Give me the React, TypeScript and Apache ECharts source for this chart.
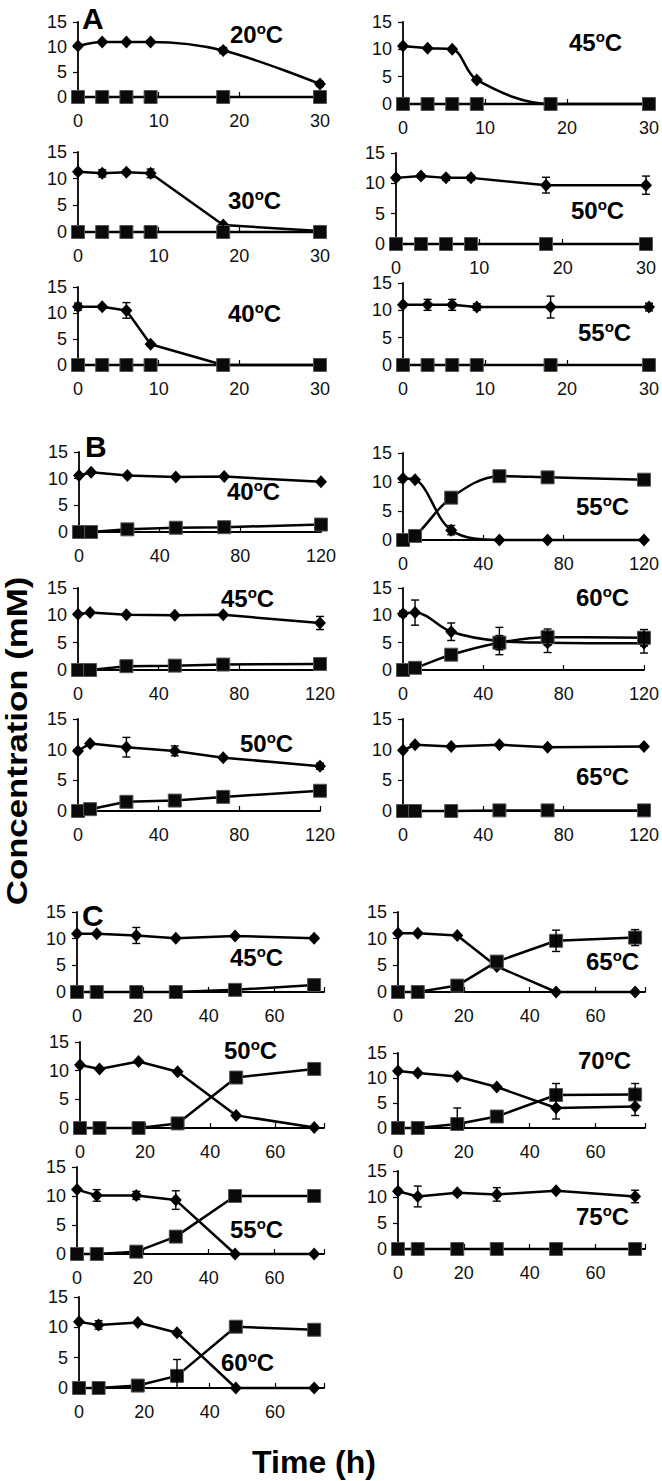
import React, { useEffect, useRef } from 'react';
import * as echarts from 'echarts';

const FONT = '"Liberation Sans", Arial, Helvetica, sans-serif';

// ---------- time points (h) ----------
const hoursA = [0, 3, 6, 9, 18, 30];
const hoursB = [0, 6, 24, 48, 72, 120];
const hoursC = [0, 6, 18, 30, 48, 72];

// ---------- tick values ----------
const yTicks = [0, 5, 10, 15];
const xTicksA = [0, 10, 20, 30];
const xTicksB = [0, 40, 80, 120];
const xTicksC = [0, 20, 40, 60];

// ---------- section A ----------
const a20D = [10.2, 11.0, 11.0, 11.0, 9.3, 2.6];
const a20DErr = [0.3, 0.3, 0.3, 0.3, 0.6, 0.5];
const a20S = [0, 0, 0, 0, 0, 0];
const a45D = [10.6, 10.2, 10.0, 4.4, 0, 0];
const a45DErr = [0.3, 0.2, 0.3, 0.3, 0, 0];
const a45S = [0, 0, 0, 0, 0, 0];
const a30D = [11.3, 11.0, 11.2, 11.0, 1.3, 0.2];
const a30DErr = [0.4, 0.7, 0.4, 0.8, 0.3, 0];
const a30S = [0, 0, 0, 0, 0, 0];
const a50D = [10.9, 11.2, 10.9, 10.9, 9.7, 9.7];
const a50DErr = [0.3, 0.3, 0.4, 0.4, 1.3, 1.5];
const a50S = [0, 0, 0, 0, 0, 0];
const a40D = [11.2, 11.2, 10.5, 4.0, 0, 0];
const a40DErr = [0.7, 0.3, 1.5, 0.3, 0, 0];
const a40S = [0, 0, 0, 0, 0, 0];
const a55D = [11.0, 11.0, 11.0, 10.6, 10.6, 10.6];
const a55DErr = [0.3, 1.0, 1.0, 0.6, 2.0, 0.7];
const a55S = [0, 0, 0, 0, 0, 0];

// ---------- section B ----------
const b40D = [10.6, 11.2, 10.6, 10.3, 10.4, 9.4];
const b40S = [0, 0, 0.5, 0.8, 0.9, 1.4];
const b55D = [10.6, 10.4, 1.7, 0, 0, 0];
const b55DErr = [0, 0, 0.8, 0, 0, 0];
const b55S = [0, 0.7, 7.3, 11.0, 10.8, 10.4];
const b45D = [10.2, 10.5, 10.1, 10.0, 10.1, 8.6];
const b45DErr = [0, 0, 0, 0, 0, 1.2];
const b45S = [0, 0, 0.7, 0.8, 1.0, 1.1];
const b60D = [10.3, 10.5, 7.0, 5.3, 5.0, 4.9];
const b60DErr = [0.5, 2.3, 1.6, 2.5, 1.8, 1.8];
const b60S = [0, 0.4, 2.8, 5.0, 6.0, 5.9];
const b60SErr = [0, 0, 0, 1.3, 1.5, 1.5];
const b50D = [9.8, 11.0, 10.4, 9.8, 8.7, 7.3];
const b50DErr = [0, 0, 1.6, 0.8, 0.3, 0.5];
const b50S = [0, 0.3, 1.5, 1.7, 2.3, 3.3];
const b65D = [9.9, 10.8, 10.5, 10.8, 10.4, 10.5];
const b65S = [0, 0, 0, 0.1, 0.1, 0.1];

// ---------- section C ----------
const c45D = [10.9, 10.9, 10.6, 10.1, 10.5, 10.1];
const c45DErr = [0, 0, 1.5, 0, 0, 0.3];
const c45S = [0, 0, 0, 0, 0.4, 1.3];
const c65D = [11.0, 11.0, 10.6, 4.8, 0, 0];
const c65S = [0, 0, 1.2, 5.7, 9.6, 10.2];
const c65SErr = [0, 0, 0, 0, 2.0, 1.5];
const c50D = [11.0, 10.3, 11.6, 9.8, 2.2, 0.1];
const c50S = [0, 0, 0, 0.8, 8.8, 10.3];
const c70D = [11.4, 11.0, 10.3, 8.2, 4.0, 4.3];
const c70DErr = [0, 0, 0, 0, 2.2, 1.8];
const c70S = [0, 0, 0.8, 2.3, 6.6, 6.7];
const c70SErr = [0, 0, 3.2, 0, 2.3, 2.2];
const c55D = [11.1, 10.1, 10.1, 9.3, 0, 0];
const c55DErr = [0, 1.0, 0.7, 1.6, 0, 0];
const c55S = [0, 0, 0.4, 3.0, 10.0, 10.0];
const c75D = [11.1, 10.1, 10.8, 10.5, 11.2, 10.1];
const c75DErr = [0.4, 2.0, 0.4, 1.3, 0.2, 1.2];
const c75S = [0, 0, 0, 0, 0, 0];
const c60D = [10.9, 10.4, 10.8, 9.1, 0, 0];
const c60DErr = [0, 0.7, 0.3, 0.3, 0, 0];
const c60S = [0, 0, 0.4, 2.0, 10.1, 9.6];
const c60SErr = [0, 0, 0, 2.7, 0, 0];

const none = [0, 0, 0, 0, 0, 0];

type Panel = {
  temp: string;
  hours: number[];
  d: number[];
  dErr: number[];
  s: number[];
  sErr: number[];
  smooth: boolean;
  xMax: number;
  xTicks: number[];
  box: [number, number, number, number]; // x at 0, x at max, y at 15, y at 0
  lab: [number, number];
};

const panels: Panel[] = [
  { temp: '20', hours: hoursA, d: a20D, dErr: a20DErr, s: a20S, sErr: none, smooth: true, xMax: 30, xTicks: xTicksA, box: [78, 320, 22, 97], lab: [230, 34] },
  { temp: '45', hours: hoursA, d: a45D, dErr: a45DErr, s: a45S, sErr: none, smooth: true, xMax: 30, xTicks: xTicksA, box: [403, 650, 22, 104], lab: [569, 42] },
  { temp: '30', hours: hoursA, d: a30D, dErr: a30DErr, s: a30S, sErr: none, smooth: false, xMax: 30, xTicks: xTicksA, box: [78, 320, 152, 232], lab: [228, 200] },
  { temp: '50', hours: hoursA, d: a50D, dErr: a50DErr, s: a50S, sErr: none, smooth: false, xMax: 30, xTicks: xTicksA, box: [396, 646, 153, 244], lab: [571, 210] },
  { temp: '40', hours: hoursA, d: a40D, dErr: a40DErr, s: a40S, sErr: none, smooth: false, xMax: 30, xTicks: xTicksA, box: [78, 320, 287, 365], lab: [228, 313] },
  { temp: '55', hours: hoursA, d: a55D, dErr: a55DErr, s: a55S, sErr: none, smooth: false, xMax: 30, xTicks: xTicksA, box: [403, 651, 283, 365], lab: [578, 332] },

  { temp: '40', hours: hoursB, d: b40D, dErr: none, s: b40S, sErr: none, smooth: false, xMax: 120, xTicks: xTicksB, box: [79, 321, 452, 532], lab: [227, 491] },
  { temp: '55', hours: hoursB, d: b55D, dErr: b55DErr, s: b55S, sErr: none, smooth: true, xMax: 120, xTicks: xTicksB, box: [403, 647, 453, 540], lab: [576, 506] },
  { temp: '45', hours: hoursB, d: b45D, dErr: b45DErr, s: b45S, sErr: none, smooth: false, xMax: 120, xTicks: xTicksB, box: [78, 320, 588, 670], lab: [221, 598] },
  { temp: '60', hours: hoursB, d: b60D, dErr: b60DErr, s: b60S, sErr: b60SErr, smooth: true, xMax: 120, xTicks: xTicksB, box: [403, 647, 588, 670], lab: [576, 597] },
  { temp: '50', hours: hoursB, d: b50D, dErr: b50DErr, s: b50S, sErr: none, smooth: false, xMax: 120, xTicks: xTicksB, box: [78, 320, 719, 811], lab: [240, 743] },
  { temp: '65', hours: hoursB, d: b65D, dErr: none, s: b65S, sErr: none, smooth: false, xMax: 120, xTicks: xTicksB, box: [403, 647, 719, 811], lab: [576, 776] },

  { temp: '45', hours: hoursC, d: c45D, dErr: c45DErr, s: c45S, sErr: none, smooth: false, xMax: 75, xTicks: xTicksC, box: [77, 324, 912, 992], lab: [230, 957] },
  { temp: '65', hours: hoursC, d: c65D, dErr: none, s: c65S, sErr: c65SErr, smooth: false, xMax: 75, xTicks: xTicksC, box: [398, 645, 912, 992], lab: [586, 961] },
  { temp: '50', hours: hoursC, d: c50D, dErr: none, s: c50S, sErr: none, smooth: false, xMax: 75, xTicks: xTicksC, box: [80, 324, 1042, 1128], lab: [224, 1050] },
  { temp: '70', hours: hoursC, d: c70D, dErr: c70DErr, s: c70S, sErr: c70SErr, smooth: false, xMax: 75, xTicks: xTicksC, box: [398, 645, 1053, 1128], lab: [578, 1060] },
  { temp: '55', hours: hoursC, d: c55D, dErr: c55DErr, s: c55S, sErr: none, smooth: false, xMax: 75, xTicks: xTicksC, box: [77, 324, 1167, 1254], lab: [230, 1229] },
  { temp: '75', hours: hoursC, d: c75D, dErr: c75DErr, s: c75S, sErr: none, smooth: false, xMax: 75, xTicks: xTicksC, box: [398, 645, 1171, 1249], lab: [576, 1216] },
  { temp: '60', hours: hoursC, d: c60D, dErr: c60DErr, s: c60S, sErr: c60SErr, smooth: false, xMax: 75, xTicks: xTicksC, box: [79, 324, 1297, 1388], lab: [221, 1362] },
];

const sectionLetters: { t: string; x: number; y: number }[] = [
  { t: 'A', x: 82, y: 18 },
  { t: 'B', x: 85, y: 446 },
  { t: 'C', x: 82, y: 915 },
];

function errRender(params: any, api: any) {
  const x = api.value(0);
  const y = api.value(1);
  const e = api.value(2);
  const top = api.coord([x, y + e]);
  const lo = Math.max(0, y - e);
  const bot = api.coord([x, lo]);
  const w = 4;
  const st = { stroke: '#000', lineWidth: 1.4 };
  const children: any[] = [
    { type: 'line', shape: { x1: top[0], y1: top[1], x2: bot[0], y2: bot[1] }, style: st },
    { type: 'line', shape: { x1: top[0] - w, y1: top[1], x2: top[0] + w, y2: top[1] }, style: st },
  ];
  if (y - e > 0) {
    children.push({ type: 'line', shape: { x1: bot[0] - w, y1: bot[1], x2: bot[0] + w, y2: bot[1] }, style: st });
  }
  return { type: 'group', children };
}

export default function App() {
  const ref = useRef<HTMLDivElement>(null);
  useEffect(() => {
    document.body.style.margin = '0';
    const chart = echarts.init(ref.current!, null, { renderer: 'svg' });
    const grid: any[] = [];
    const xAxis: any[] = [];
    const yAxis: any[] = [];
    const series: any[] = [];
    const graphic: any[] = [];

    panels.forEach((p, i) => {
      const [x0, x1, yt, yb] = p.box;
      grid.push({ left: x0, top: yt, width: x1 - x0, height: yb - yt, containLabel: false });
      const step = p.xTicks[1] - p.xTicks[0];
      const lastLabel = p.xTicks[p.xTicks.length - 1];
      xAxis.push({
        gridIndex: i,
        type: 'value',
        min: 0,
        max: p.xMax,
        interval: step,
        axisLine: { show: true, onZero: false, lineStyle: { color: '#000', width: 1.8 } },
        axisTick: { show: true, inside: true, length: 5, lineStyle: { color: '#000', width: 1.2 } },
        axisLabel: {
          show: true,
          fontSize: 18,
          fontFamily: FONT,
          color: '#111',
          margin: 15,
          showMaxLabel: true,
          formatter: (v: number) => (v % step === 0 && v <= lastLabel ? String(v) : ''),
        },
        splitLine: { show: false },
      });
      yAxis.push({
        gridIndex: i,
        type: 'value',
        min: 0,
        max: 15,
        interval: yTicks[1] - yTicks[0],
        axisLine: { show: true, onZero: false, lineStyle: { color: '#000', width: 1.8 } },
        axisTick: { show: true, inside: false, length: 5, lineStyle: { color: '#000', width: 1.2 } },
        axisLabel: { show: true, fontSize: 18, fontFamily: FONT, color: '#111', margin: 11 },
        splitLine: { show: false },
      });
      series.push({
        type: 'line',
        name: 'Substrate',
        xAxisIndex: i,
        yAxisIndex: i,
        data: p.hours.map((h, j) => [h, p.d[j]]),
        smooth: p.smooth ? 0.35 : false,
        symbol: 'diamond',
        symbolSize: [12, 13],
        showSymbol: true,
        clip: false,
        lineStyle: { color: '#000', width: 2.5 },
        itemStyle: { color: '#000' },
        z: 3,
      });
      series.push({
        type: 'line',
        name: 'Product',
        xAxisIndex: i,
        yAxisIndex: i,
        data: p.hours.map((h, j) => [h, p.s[j]]),
        smooth: p.smooth ? 0.35 : false,
        symbol: 'rect',
        symbolSize: 13,
        showSymbol: true,
        clip: false,
        lineStyle: { color: '#000', width: 2.5 },
        itemStyle: { color: '#0a0a0a', borderColor: '#555', borderWidth: 1 },
        z: 4,
      });
      const errData: number[][] = [];
      p.hours.forEach((h, j) => {
        if (p.dErr[j] > 0) errData.push([h, p.d[j], p.dErr[j]]);
        if (p.sErr[j] > 0) errData.push([h, p.s[j], p.sErr[j]]);
      });
      if (errData.length) {
        series.push({
          type: 'custom',
          xAxisIndex: i,
          yAxisIndex: i,
          renderItem: errRender,
          data: errData,
          encode: { x: 0, y: 1 },
          silent: true,
          clip: false,
          z: 5,
        });
      }
      graphic.push({
        type: 'text',
        x: p.lab[0],
        y: p.lab[1],
        z: 10,
        style: {
          text: `{n|${p.temp}}{s|o}{n|C}`,
          textVerticalAlign: 'middle',
          textAlign: 'left',
          fill: '#000',
          rich: {
            n: { fontSize: 24, fontWeight: 'bold', fontFamily: FONT, fill: '#000', lineHeight: 26 },
            s: { fontSize: 15, fontWeight: 'bold', fontFamily: FONT, fill: '#000', verticalAlign: 'top', lineHeight: 26 },
          },
        },
      });
    });

    sectionLetters.forEach((l) => {
      graphic.push({
        type: 'text',
        x: l.x,
        y: l.y,
        z: 10,
        style: {
          text: l.t,
          font: `bold 30px ${FONT}`,
          fill: '#000',
          textAlign: 'left',
          textVerticalAlign: 'middle',
        },
      });
    });

    graphic.push({
      type: 'text',
      x: 17,
      y: 741,
      rotation: Math.PI / 2,
      scaleX: 1.2,
      z: 10,
      style: {
        text: 'Concentration (mM)',
        font: `bold 29px ${FONT}`,
        fill: '#000',
        textAlign: 'center',
        textVerticalAlign: 'middle',
      },
    });
    graphic.push({
      type: 'text',
      x: 314,
      y: 1462,
      z: 10,
      style: {
        text: 'Time (h)',
        font: `bold 32px ${FONT}`,
        fill: '#000',
        textAlign: 'center',
        textVerticalAlign: 'middle',
      },
    });

    chart.setOption({
      animation: false,
      backgroundColor: '#ffffff',
      grid,
      xAxis,
      yAxis,
      series,
      graphic,
    });
    return () => chart.dispose();
  }, []);
  return <div ref={ref} style={{ width: 662, height: 1481 }} />;
}
